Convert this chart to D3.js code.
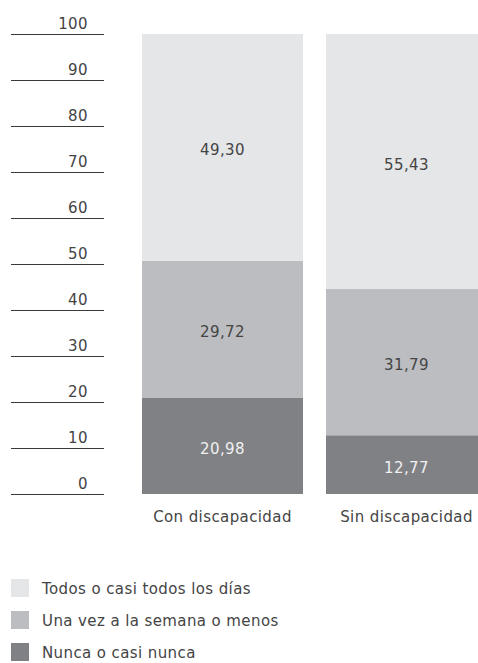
<!DOCTYPE html>
<html>
<head>
<meta charset="utf-8">
<script src="https://cdn.jsdelivr.net/npm/d3@7"></script>
<style>
  body { margin: 0; background: #fff; }
  svg { display: block; font-family: "DejaVu Sans", "Liberation Sans", sans-serif; }
</style>
</head>
<body>
<div id="chart"></div>
<script>
var categories = ["Con discapacidad", "Sin discapacidad"];
var seriesNames = ["Nunca o casi nunca", "Una vez a la semana o menos", "Todos o casi todos los días"];
var nunca = [20.98, 12.77];
var semana = [29.72, 31.79];
var todos = [49.30, 55.43];
var yTicks = [0, 10, 20, 30, 40, 50, 60, 70, 80, 90, 100];

var colors = {"Nunca o casi nunca": "#808184",
              "Una vez a la semana o menos": "#bcbdc0",
              "Todos o casi todos los días": "#e5e6e7"};
var labelColors = {"Nunca o casi nunca": "#f0f0f0",
                   "Una vez a la semana o menos": "#444",
                   "Todos o casi todos los días": "#444"};

var w = 478, h = 663;
var textColor = "#444";
var spacing = "0.4px";

var svg = d3.select("#chart").append("svg")
    .attr("width", w)
    .attr("height", h)
    .attr("letter-spacing", spacing);

var rows = categories.map(function(c, i) {
    return {cat: c, "Nunca o casi nunca": nunca[i],
            "Una vez a la semana o menos": semana[i],
            "Todos o casi todos los días": todos[i]};
});

var stack = d3.stack().keys(seriesNames)(rows);

var x = d3.scaleBand()
    .domain(categories)
    .range([142, 487])
    .paddingInner(0.125)
    .paddingOuter(0);

var y = d3.scaleLinear()
    .domain([0, 100])
    .range([494, 34]);

// y axis: horizontal rules with labels above them
var axis = svg.append("g").attr("class", "yaxis");
axis.selectAll("line")
    .data(yTicks)
    .enter()
    .append("line")
    .attr("x1", 11)
    .attr("x2", 104)
    .attr("y1", function(d) { return y(d) + 0.5; })
    .attr("y2", function(d) { return y(d) + 0.5; })
    .attr("stroke", "#3a3a3a")
    .attr("stroke-width", 1.2);

axis.selectAll("text")
    .data(yTicks)
    .enter()
    .append("text")
    .attr("x", 88)
    .attr("y", function(d) { return y(d) - 5; })
    .attr("text-anchor", "end")
    .attr("font-size", 15)
    .attr("fill", textColor)
    .text(function(d) { return d; });

// bars
var layers = svg.append("g").attr("class", "bars")
    .selectAll("g")
    .data(stack)
    .enter()
    .append("g");

layers.selectAll("rect")
    .data(function(d) { return d.map(function(p) { return {key: d.key, p: p}; }); })
    .enter()
    .append("rect")
    .attr("x", function(d) { return x(d.p.data.cat); })
    .attr("width", x.bandwidth())
    .attr("y", function(d) { return y(d.p[1]); })
    .attr("height", function(d) { return y(d.p[0]) - y(d.p[1]); })
    .attr("fill", function(d) { return colors[d.key]; });

layers.selectAll("text")
    .data(function(d) { return d.map(function(p) { return {key: d.key, p: p}; }); })
    .enter()
    .append("text")
    .attr("x", function(d) { return x(d.p.data.cat) + x.bandwidth() / 2; })
    .attr("y", function(d) { return (y(d.p[0]) + y(d.p[1])) / 2 + 8; })
    .attr("text-anchor", "middle")
    .attr("font-size", 15)
    .attr("fill", function(d) { return labelColors[d.key]; })
    .text(function(d) { return d3.format(".2f")(d.p[1] - d.p[0]).replace(".", ","); });

// category labels
svg.append("g")
    .selectAll("text")
    .data(categories)
    .enter()
    .append("text")
    .attr("x", function(d) { return x(d) + x.bandwidth() / 2; })
    .attr("y", 522)
    .attr("text-anchor", "middle")
    .attr("font-size", 15)
    .attr("fill", textColor)
    .text(function(d) { return d; });

// legend
var legendOrder = seriesNames.slice().reverse();
var legend = svg.append("g")
    .selectAll("g")
    .data(legendOrder)
    .enter()
    .append("g")
    .attr("transform", function(d, i) { return "translate(11," + (579 + i * 32) + ")"; });

legend.append("rect")
    .attr("width", 18)
    .attr("height", 18)
    .attr("fill", function(d) { return colors[d]; });

legend.append("text")
    .attr("x", 31)
    .attr("y", 15)
    .attr("font-size", 15)
    .attr("fill", textColor)
    .text(function(d) { return d; });
</script>
</body>
</html>
